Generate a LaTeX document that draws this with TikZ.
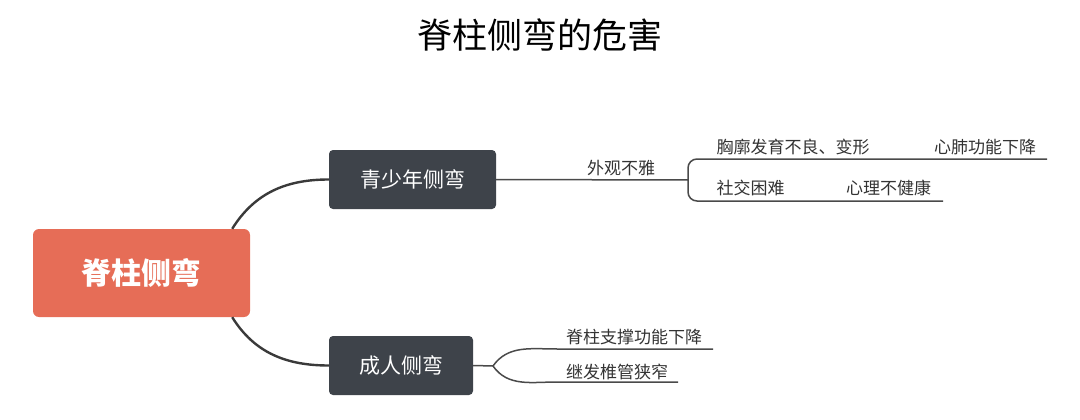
\documentclass[tikz,border=0pt]{standalone}
\usepackage{fontspec}
\setmainfont{Noto Sans CJK SC}
\usetikzlibrary{calc}
\definecolor{spinered}{HTML}{E66D57}
\definecolor{topicgray}{HTML}{3E434A}
\definecolor{branchgray}{HTML}{3A3A3A}
\definecolor{leafgray}{HTML}{4A4A4A}
\tikzset{
  topic/.style={fill=topicgray, text=white, rounded corners=4pt, inner sep=0pt,
    minimum height=59pt, font=\fontsize{21}{24}\selectfont},
  leaf/.style={text=black!80, inner sep=0pt, font=\fontsize{17}{20}\selectfont},
  branch/.style={draw=branchgray, line width=2.4pt},
  twig/.style={draw=leafgray, line width=1.5pt}
}
\begin{document}
\begin{tikzpicture}[x=1pt,y=-1pt]
                \useasboundingbox (0,0) rectangle (1080,420);
            
                \node[font=\fontsize{35}{38}\selectfont] (title) at (540,35) {脊柱侧弯的危害};
            
                \node[fill=spinered, text=white, rounded corners=6pt, minimum width=217pt, minimum height=88pt,
                  inner sep=0pt, font=\fontsize{30}{34}\selectfont\bfseries] (spine) at (141.5,273) {脊柱侧弯};
                \node[topic, minimum width=167pt] (teen) at (412.5,179.5) {青少年侧弯};
                \node[topic, minimum width=144pt] (adult) at (401,365.5) {成人侧弯};
            
                \coordinate (look) at (688,180);
                \coordinate (fork) at (493,366);
                \coordinate (chestend) at (1047,159);
                \coordinate (socialend) at (943,201);
                \coordinate (support) at (557,349);
                \coordinate (supportend) at (713,349);
                \coordinate (canal) at (557,382);
                \coordinate (canalend) at (678,382);
            
                \node[leaf] (looks) at (621,168) {外观不雅};
                \node[leaf] (chest) at (793,147) {胸廓发育不良、变形};
                \node[leaf] (lung) at (985,147) {心肺功能下降};
                \node[leaf] (social) at (750.5,188) {社交困难};
                \node[leaf] (mind) at (888.5,188) {心理不健康};
                \node[leaf] (supports) at (634,337) {脊柱支撑功能下降};
                \node[leaf] (canals) at (617,372) {继发椎管狭窄};
            
                \draw[branch] ($(spine.north east)+(-18,0)$) to[out=58,in=180] (teen.west);
                \draw[branch] ($(spine.south east)+(-18,0)$) to[out=-58,in=180] (adult.west);
            
                \draw[twig] (teen.east) -- (look);
                \draw[twig, rounded corners=9pt] (chestend) -- (look |- chestend) -- (look |- socialend) -- (socialend);
                \draw[twig] (adult.east) -- (fork);
                \draw[twig] (fork) to[out=55,in=180] (support) -- (supportend);
                \draw[twig] (fork) to[out=-55,in=180] (canal) -- (canalend);
            \end{tikzpicture}
\end{document}
